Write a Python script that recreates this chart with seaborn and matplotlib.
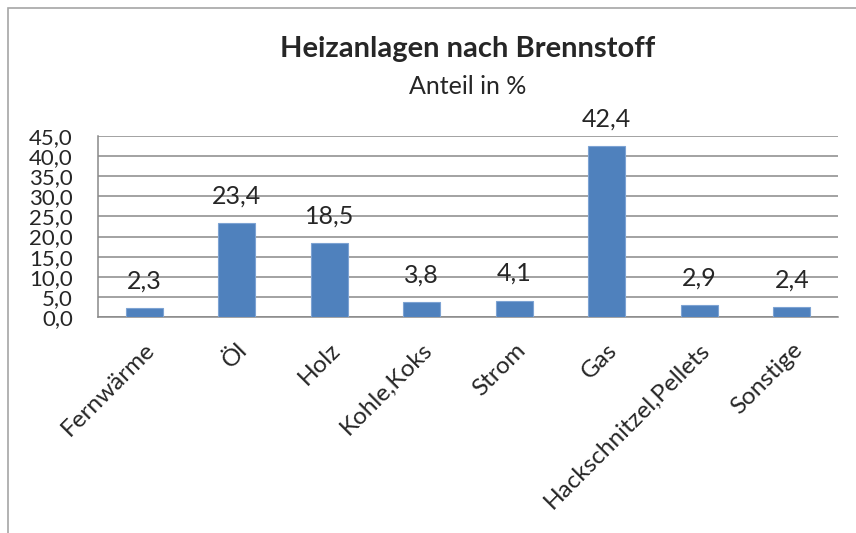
import matplotlib
matplotlib.use("Agg")
import matplotlib.pyplot as plt
import seaborn as sns
import numpy as np
from matplotlib.patches import Rectangle
from matplotlib.ticker import FixedLocator

# data
categories = ["Fernwärme", "Öl", "Holz", "Kohle,Koks", "Strom", "Gas",
              "Hackschnitzel,Pellets", "Sonstige"]
shares = [2.3, 23.4, 18.5, 3.8, 4.1, 42.4, 2.9, 2.4]
y_ticks = [0, 5, 10, 15, 20, 25, 30, 35, 40, 45]

title = "Heizanlagen nach Brennstoff"
subtitle = "Anteil in %"

bar_color = "#4F81BD"
grid_color = "#898989"

sns.set_theme(style="white")
plt.rcParams['font.family'] = ['Lato', 'DejaVu Sans']

W, H = 856, 533
fig = plt.figure(figsize=(W / 100, H / 100), dpi=100)
ax = fig.add_axes([98 / W, 1 - 317 / H, (838 - 98) / W, (317 - 136) / H])

sns.barplot(x=categories, y=shares, color=bar_color, saturation=1, width=0.4,
            edgecolor="#7da3d3", linewidth=0.8, ax=ax, zorder=3)

ax.set_xlim(-0.5, len(categories) - 0.5)
ax.set_ylim(0, 45)
ax.set_yticks(y_ticks)
ax.set_yticklabels([f"{v:.1f}".replace(".", ",") for v in y_ticks], fontsize=16)
ax.yaxis.grid(True, color=grid_color, linewidth=1.1, zorder=0)
ax.set_axisbelow(True)

# category labels at centres, tick marks at boundaries
ax.set_xticks(range(len(categories)))
ax.set_xticklabels(categories, rotation=45, ha="right", rotation_mode="anchor",
                   fontsize=17.5)
ax.tick_params(axis="x", which="major", length=0, pad=16)
ax.xaxis.set_minor_locator(FixedLocator(np.arange(-0.5, len(categories), 1.0)))
ax.tick_params(axis="x", which="minor", length=6, width=1.1, color=grid_color,
               direction="out")
ax.tick_params(axis="y", length=6, width=1.1, color=grid_color, direction="out",
               pad=12)

for side in ["top", "right"]:
    ax.spines[side].set_visible(False)
for side in ["left", "bottom"]:
    ax.spines[side].set_color(grid_color)
    ax.spines[side].set_linewidth(1.1)

ax.set_xlabel("")
ax.set_ylabel("")

for i, v in enumerate(shares):
    ax.annotate(f"{v:.1f}".replace(".", ","), (i, v), xytext=(0, 14),
                textcoords="offset points", ha="center", va="baseline",
                fontsize=18)

cx = (98 + 838) / 2 / W
fig.text(cx, 1 - 49 / H, title, ha="center", va="center", fontsize=21,
         fontweight="bold")
fig.text(cx, 1 - 86 / H, subtitle, ha="center", va="center", fontsize=18)

# outer chart frame
fig.patches.append(Rectangle((8 / W, -0.1), 1.2, 1 - 8 / H + 0.1,
                             transform=fig.transFigure, fill=False,
                             edgecolor="#a6a6a6", linewidth=1.2))

fig.savefig("out.png", dpi=100)
